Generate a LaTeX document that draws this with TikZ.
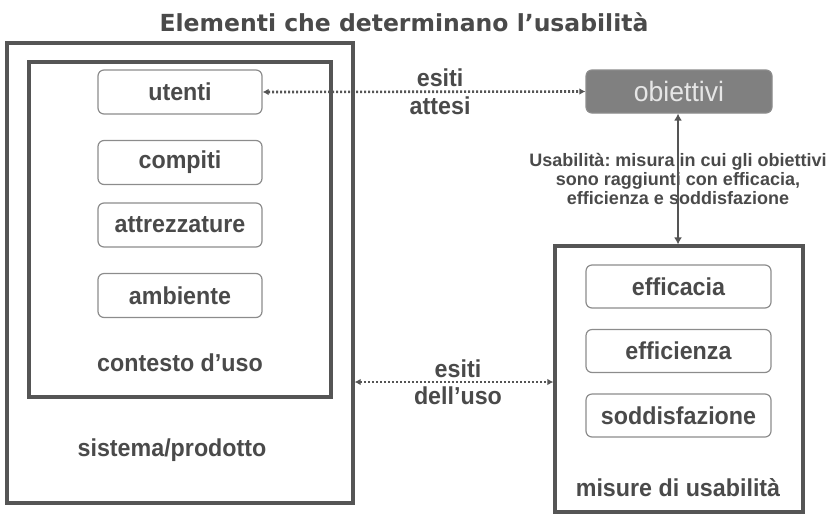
\documentclass[tikz,border=0pt]{standalone}
\usepackage{fontspec}
\setmainfont{Liberation Sans}
\newfontfamily\boxfont{Liberation Sans}[FakeStretch=0.95]
\newfontfamily\titlefont{DejaVu Sans}
\usetikzlibrary{arrows.meta}
\definecolor{darkline}{HTML}{555555}
\definecolor{softline}{HTML}{8C8C8C}
\definecolor{inktext}{HTML}{4A4A4A}
\definecolor{goalfill}{HTML}{808080}
\definecolor{goaltext}{HTML}{E6E6E6}
\frenchspacing
\begin{document}
\begin{tikzpicture}[x=1pt, y=-1pt, every node/.style={text=inktext, font=\boxfont\bfseries\fontsize{24.5}{26}\selectfont},
  frame/.style={draw=darkline, line width=3.2pt, minimum width=#1, anchor=center, inner sep=0pt},
  itembox/.style={draw=softline, line width=1.2pt, rounded corners=6pt, minimum width=#1, minimum height=44pt, inner sep=0pt},
  outcome/.style={draw=darkline, line width=2.6pt, dash pattern=on 2pt off 2pt, {Latex[length=6pt,width=6.5pt]}-{Latex[length=6pt,width=6.5pt]}}]
  \useasboundingbox (0,0) rectangle (826,515);
  \node[font=\titlefont\bfseries\fontsize{23.5}{26}\selectfont] (titolo) at (404,22) {Elementi che determinano l’usabilità};
  % sistema e contesto d'uso
  \node[frame=346pt, minimum height=460pt] (sistema) at (180,273) {};
  \node[frame=302pt, minimum height=335pt] (contesto) at (180,229.5) {};
  \node[itembox=164pt] (utenti) at (180,92) {utenti};
  \node[itembox=164pt] (compiti) at (180,162.5) {compiti};
  \node[itembox=164pt] (attrezzature) at (180,225) {attrezzature};
  \node[itembox=164pt] (ambiente) at (180,295.5) {ambiente};
  \node (contestolbl) at (180,363) {contesto d’uso};
  \node (sistemalbl) at (172,450) {sistema/prodotto};
  % obiettivi e misure
  \node[fill=goalfill, draw=softline, line width=1.2pt, rounded corners=6pt, minimum width=186pt, minimum height=43pt,
    text=goaltext, font=\boxfont\fontsize{28}{30}\selectfont] (obiettivi) at (679,91.5) {obiettivi};
  \node[frame=248pt, minimum height=266pt] (misure) at (679,379) {};
  \node[itembox=185pt, minimum height=43pt] (efficacia) at (678.5,286.5) {efficacia};
  \node[itembox=185pt, minimum height=43pt] (efficienza) at (678.5,351) {efficienza};
  \node[itembox=185pt, minimum height=43pt] (soddisfazione) at (678.5,415.5) {soddisfazione};
  \node (misurelbl) at (678,488) {misure di usabilità};
  \node[align=center, font=\bfseries\fontsize{18}{18.7}\selectfont] (definizione) at (678,179)
    {Usabilità: misura in cui gli obiettivi\\ sono raggiunti con efficacia,\\ efficienza e soddisfazione};
  % connettori
  \draw[outcome] (utenti.east) -- node[pos=0.55, above=0pt] {esiti} node[pos=0.55, below=0pt] {attesi} (obiettivi.west);
  \draw[outcome] (sistema.east |- 0,382) -- node[pos=0.52, above=0pt] {esiti} node[pos=0.52, below=0pt] {dell’uso} (misure.west |- 0,382);
  \draw[darkline, line width=2.8pt, {Latex[length=7pt,width=8pt]}-{Latex[length=7pt,width=8pt]}] (obiettivi.south -| 678,0) -- (misure.north -| 678,0);
\end{tikzpicture}
\end{document}
